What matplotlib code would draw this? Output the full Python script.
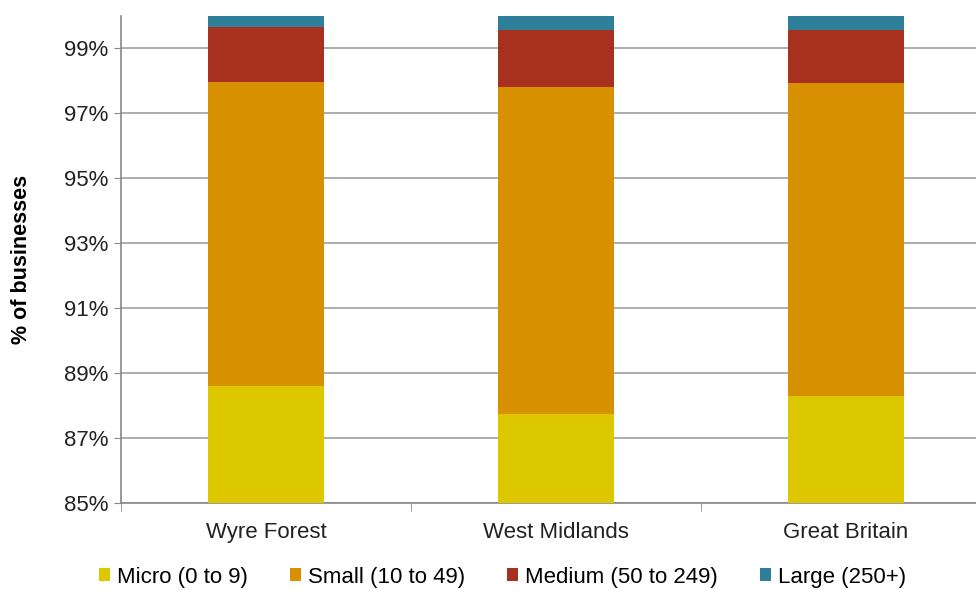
import matplotlib
matplotlib.use("Agg")
import matplotlib.pyplot as plt
import numpy as np

plt.rcParams['font.family'] = ['Liberation Sans', 'DejaVu Sans']

categories = ["Wyre Forest", "West Midlands", "Great Britain"]
series_names = ["Micro (0 to 9)", "Small (10 to 49)", "Medium (50 to 249)", "Large (250+)"]
micro = [88.59, 87.75, 88.28]
small = [9.37, 10.05, 9.65]
medium = [1.70, 1.77, 1.64]
large = [0.34, 0.43, 0.43]
colors = ["#DDC800", "#D79000", "#A8301E", "#2E7F99"]
yticks = [85, 87, 89, 91, 93, 95, 97, 99]

fig = plt.figure(figsize=(9.76, 5.9), dpi=100)
ax = fig.add_axes([0.124, 0.1475, 0.891, 0.8255])

x = np.arange(len(categories))
bottom = np.zeros(len(categories))
for vals, name, c in zip([micro, small, medium, large], series_names, colors):
    ax.bar(x, vals, 0.4, bottom=bottom, color=c, label=name, zorder=3,
           edgecolor='none')
    bottom = bottom + np.array(vals)

fs = 16
ax.set_ylim(85, 100)
ax.set_xlim(-0.5, 2.5)
ax.set_yticks(yticks)
ax.set_yticklabels([f"{t}%" for t in yticks], fontsize=fs, color='#222222')
ax.set_xticks(x)
ax.set_xticklabels(categories, fontsize=fs, color='#222222')
ax.tick_params(axis='x', length=0, pad=14)
ax.set_xticks([-0.5, 0.5, 1.5, 2.5], minor=True)
ax.tick_params(axis='x', which='minor', length=6, color='#888888')
ax.tick_params(axis='y', length=5, color='#888888', pad=4)
ax.grid(axis='y', color='#A0A0A0', linewidth=1.2, zorder=0)
for s in ['top', 'right']:
    ax.spines[s].set_visible(False)
for s in ['left', 'bottom']:
    ax.spines[s].set_color('#888888')
    ax.spines[s].set_linewidth(1.2)
ax.set_ylabel("% of businesses", fontsize=15.5, fontweight='bold', labelpad=23)

handles, labels = ax.get_legend_handles_labels()
fig.legend(handles, labels, loc='center', bbox_to_anchor=(0.515, 0.022), ncol=4,
           frameon=False, fontsize=fs, handlelength=0.5, handleheight=0.5,
           handletextpad=0.3, columnspacing=1.9)

fig.savefig("out.png", dpi=100)
